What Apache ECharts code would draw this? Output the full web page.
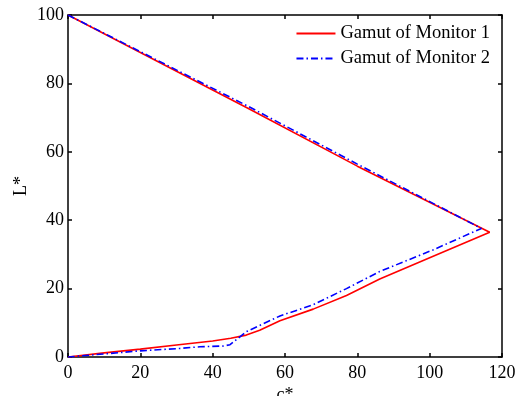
<!DOCTYPE html>
<html>
<head>
<meta charset="utf-8">
<script src="https://cdn.jsdelivr.net/npm/echarts@6/dist/echarts.min.js"></script>
<style>
  html, body { margin: 0; padding: 0; background: #fff; }
  #chart { width: 517px; height: 396px; }
</style>
</head>
<body>
<div id="chart"></div>
<script>
// Gamut boundary outlines in the c*-L* plane (upper edge, then lower edge back to origin)
const monitor1C = [0, 50, 80, 116.6, 100, 86.2, 77, 67.8, 58.6, 53, 49.3, 45, 40, 30, 20, 10, 0];
const monitor1L = [100, 72.6, 55.8, 36.5, 29, 22.8, 18, 14, 10.6, 7.8, 6.4, 5.5, 4.7, 3.5, 2.3, 1.2, 0];

const monitor2C = [0, 50, 80, 114.3, 100.9, 86.2, 77, 67.8, 58.6, 49.3, 44.8, 42.9, 36.5, 30.9, 20, 10, 0];
const monitor2L = [100, 73.2, 56.4, 37.6, 31.3, 25, 20, 15.3, 12, 7.4, 3.6, 3.2, 3.0, 2.5, 1.8, 0.9, 0];

const seriesNames = ['Gamut of Monitor 1', 'Gamut of Monitor 2'];
const xTicks = [0, 20, 40, 60, 80, 100, 120];
const yTicks = [0, 20, 40, 60, 80, 100];

const pairs = (xs, ys) => xs.map((x, i) => [x, ys[i]]);

const font = 'Liberation Serif';
const chart = echarts.init(document.getElementById('chart'));

const baseAxis = {
  type: 'value',
  axisLine: { show: true, onZero: false, lineStyle: { color: '#000', width: 1.5 } },
  axisTick: { show: true, inside: true, length: 4, lineStyle: { color: '#000', width: 1.5 } },
  splitLine: { show: false }
};

chart.setOption({
  animation: false,
  backgroundColor: '#fff',
  grid: { left: 68, right: 15, top: 15, bottom: 39, containLabel: false, outerBoundsMode: 'none' },
  legend: {
    orient: 'vertical',
    right: 27,
    top: 24,
    padding: 0,
    itemWidth: 39,
    itemHeight: 14,
    itemGap: 6,
    itemStyle: { opacity: 0 },
    textStyle: { fontFamily: font, fontSize: 18.5, color: '#000' },
    data: seriesNames
  },
  xAxis: [
    Object.assign({}, baseAxis, {
      position: 'bottom',
      min: xTicks[0], max: xTicks[xTicks.length - 1], interval: 20,
      name: 'c*', nameLocation: 'middle', nameGap: 29, nameMoveOverlap: false,
      nameTextStyle: { fontFamily: font, fontSize: 18, color: '#000' },
      axisLabel: { fontFamily: font, fontSize: 18, color: '#000', margin: 7 }
    }),
    Object.assign({}, baseAxis, {
      position: 'top',
      min: xTicks[0], max: xTicks[xTicks.length - 1], interval: 20,
      axisLabel: { show: false }
    })
  ],
  yAxis: [
    Object.assign({}, baseAxis, {
      position: 'left',
      min: yTicks[0], max: yTicks[yTicks.length - 1], interval: 20,
      name: 'L*', nameLocation: 'middle', nameGap: 38, nameRotate: 90, nameMoveOverlap: false,
      nameTextStyle: { fontFamily: font, fontSize: 18, color: '#000' },
      axisLabel: { fontFamily: font, fontSize: 18, color: '#000', margin: 4 }
    }),
    Object.assign({}, baseAxis, {
      position: 'right',
      min: yTicks[0], max: yTicks[yTicks.length - 1], interval: 20,
      axisLabel: { show: false }
    })
  ],
  series: [
    {
      name: seriesNames[0],
      type: 'line',
      xAxisIndex: 0, yAxisIndex: 0,
      symbol: 'none',
      z: 2,
      lineStyle: { color: '#ff0000', width: 1.6, type: 'solid' },
      itemStyle: { color: '#ff0000' },
      data: pairs(monitor1C, monitor1L)
    },
    {
      name: seriesNames[1],
      type: 'line',
      xAxisIndex: 0, yAxisIndex: 0,
      symbol: 'none',
      z: 3,
      lineStyle: { color: '#0000ff', width: 1.6, type: [7, 3, 1.5, 3] },
      itemStyle: { color: '#0000ff' },
      data: pairs(monitor2C, monitor2L)
    }
  ]
});
</script>
</body>
</html>
